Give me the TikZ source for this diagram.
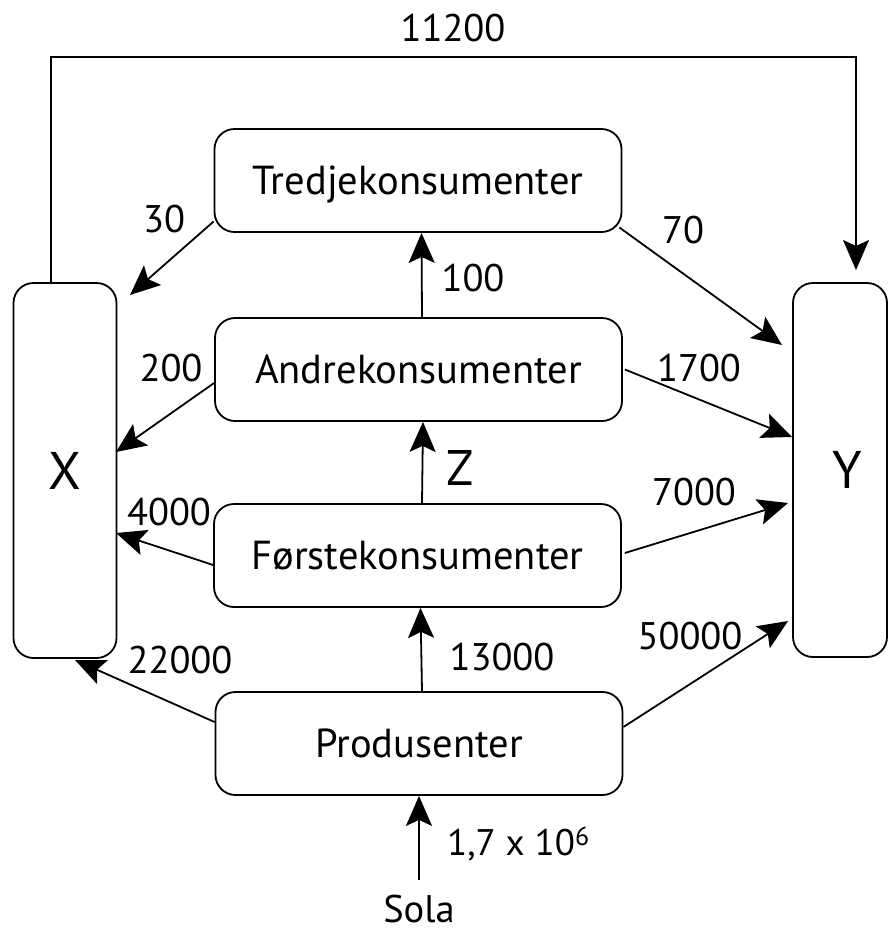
\documentclass[tikz,border=0pt]{standalone}
\usepackage{fontspec}
\setmainfont{PT Sans}
\usetikzlibrary{arrows.meta,calc}
\tikzset{
  box/.style={draw, line width=1.8pt, rounded corners=20pt, minimum width=407pt, minimum height=103pt,
    inner sep=0pt, font=\fontsize{40.5}{40.5}\selectfont, text height=28pt, text depth=0pt},
  side/.style={draw, line width=1.8pt, rounded corners=20pt, inner sep=0pt,
    font=\fontsize{53}{53}\selectfont},
  lab/.style={inner sep=0pt, font=\fontsize{38.5}{38.5}\selectfont},
  arr/.style={line width=1.8pt, -{Stealth[length=30pt,width=26pt,inset=6pt]}}
}
\begin{document}
\begin{tikzpicture}[x=1pt,y=-1pt]
\useasboundingbox (0,0) rectangle (889,930);

% trophic levels
\node[box] (tred) at (418,180.5) {Tredjekonsumenter};
\node[box] (andre) at (418.5,369.5) {Andrekonsumenter};
\node[box] (forste) at (417.5,555.5) {Førstekonsumenter};
\node[box] (prod) at (419,743.5) {Produsenter};

% side compartments
\node[side, minimum width=103pt, minimum height=375pt] (X) at (65,470.5) {X};
\node[side, minimum width=94pt, minimum height=374pt] (Y) at (840,470) {};
\node[lab, font=\fontsize{53}{53}\selectfont] (Ylab) at (847,470) {Y};

% sun
\node[lab, anchor=base] (sola) at (419,922) {Sola};

% free ends of connectors
\coordinate (tl) at (51,57);
\coordinate (tr) at (856,57);
\coordinate (ytop) at (856,270);
\coordinate (x30) at (130,295);
\coordinate (y70) at (782,345);
\coordinate (x200) at (116,452);
\coordinate (y1700) at (792,437);
\coordinate (x4000) at (116,533);
\coordinate (y7000) at (788,503);
\coordinate (x22000) at (75,660);
\coordinate (y50000) at (788,621);

% X to Y across the top
\draw[arr] (X.north -| tl) -- (tl) -- (tr) -- (ytop);

% upward energy flow
\draw[arr] (sola.north |- 0,880) -- (sola.north |- prod.south);
\draw[arr] ([xshift=3pt]prod.north) -- ([xshift=3pt]forste.south);
\draw[arr] ([xshift=4.5pt]forste.north) -- ([xshift=4.5pt]andre.south);
\draw[arr] ([xshift=3.5pt]andre.north) -- ([xshift=3.5pt]tred.south);

% losses to X
\draw[arr] ($(tred.west)+(0,41)$) -- (x30);
\draw[arr] ($(andre.west)+(0,13.5)$) -- (x200);
\draw[arr] ($(forste.west)+(0,9.5)$) -- (x4000);
\draw[arr] ($(prod.west)+(0,-21.5)$) -- (x22000);

% losses to Y
\draw[arr] ($(tred.east)+(-3,47)$) -- (y70);
\draw[arr] ($(andre.east)+(2,0)$) -- (y1700);
\draw[arr] ($(forste.east)+(3,-2.5)$) -- (y7000);
\draw[arr] ($(prod.east)+(0,-16.5)$) -- (y50000);

% flow values
\node[lab] (v11200) at (453,28.5) {11200};
\node[lab] (v30) at (164,219) {30};
\node[lab] (v70) at (683,230) {70};
\node[lab] (v100) at (473,278) {100};
\node[lab] (v200) at (171,368.5) {200};
\node[lab] (v1700) at (699,368.5) {1700};
\node[lab, font=\fontsize{50}{50}\selectfont] (vz) at (460,468) {Z};
\node[lab] (v4000) at (169,512) {4000};
\node[lab] (v7000) at (694,492) {7000};
\node[lab] (v22000) at (180,660) {22000};
\node[lab] (v13000) at (502,657) {13000};
\node[lab] (v50000) at (690,636) {50000};
\node[lab, anchor=base west, font=\fontsize{37}{37}\selectfont] (vsun) at (447,855) {1,7 x 10\textsuperscript{6}};
\end{tikzpicture}
\end{document}
